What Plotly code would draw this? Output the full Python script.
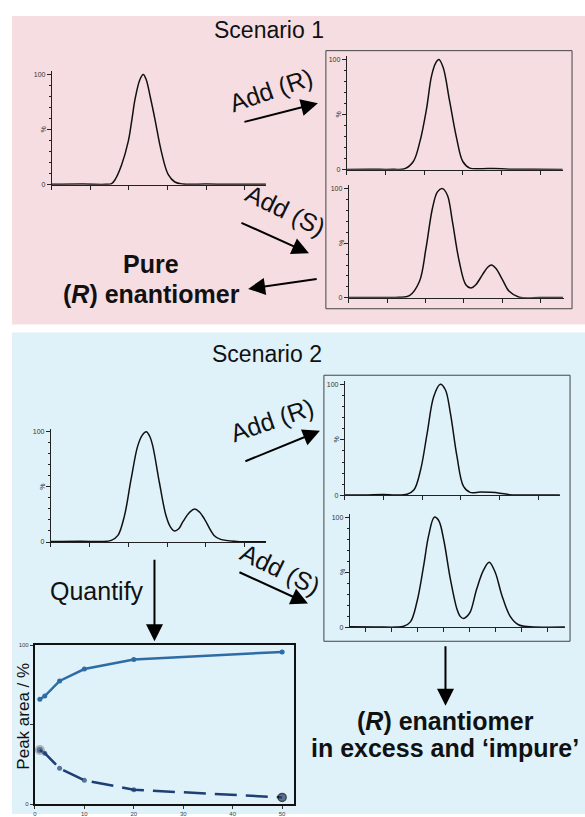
import plotly.graph_objects as go

W, H = 585, 817
FONT = "Liberation Sans, Arial, sans-serif"
INK = "#111111"

# ---------------- data ----------------
# Scenario 1, starting sample (x in tick units)
s1_start_x = [0, 0.8, 1.4, 1.55, 1.64, 1.81, 1.98, 2.08, 2.16, 2.28, 2.37, 2.45, 2.55, 2.67, 2.84, 3.02, 3.19, 3.4, 4.0, 4.6, 5.2, 5.55]
s1_start_y = [0.3, 0.5, 0.3, 1, 4.5, 18, 39, 60, 78, 95, 100, 95, 80, 60, 30, 9, 2.4, 0.6, 0.5, 0.4, 0.3, 0.3]
# Scenario 1, + (R)
s1_addR_x = [0, 0.6, 1.2, 1.5, 1.72, 1.89, 2.06, 2.19, 2.3, 2.38, 2.49, 2.66, 2.84, 3.0, 3.18, 3.5, 3.8, 4.2, 4.8, 5.58]
s1_addR_y = [0.3, 0.4, 0.4, 1, 7.5, 25.5, 55, 85, 97, 100, 93, 62, 28.5, 7.5, 1.5, 1, 1.2, 0.5, 0.4, 0.3]
# Scenario 1, + (S)
s1_addS_x = [0, 0.8, 1.3, 1.58, 1.84, 2.01, 2.18, 2.31, 2.44, 2.57, 2.70, 2.88, 3.05, 3.18, 3.31, 3.48, 3.62, 3.72, 3.83, 4.0, 4.18, 4.44, 5.0, 5.58]
s1_addS_y = [0.3, 0.4, 0.5, 2, 15, 45, 82, 97, 100, 94, 70, 33, 12, 9, 12, 21, 28, 30, 27, 17, 6, 0.6, 0.3, 0.3]
# Scenario 2, starting sample
s2_start_x = [0, 0.8, 1.3, 1.56, 1.73, 1.90, 2.07, 2.24, 2.36, 2.46, 2.55, 2.63, 2.80, 2.97, 3.08, 3.19, 3.30, 3.40, 3.58, 3.71, 3.84, 3.96, 4.21, 4.38, 4.8, 5.55]
s2_start_y = [0.5, 0.8, 0.4, 1.5, 6, 24, 57, 87, 97, 100, 96, 87, 54, 24, 14, 10, 12, 18, 27, 30, 27, 21, 6, 2.4, 0.5, 0.3]
# Scenario 2, + (R)
s2_addR_x = [0, 0.5, 1.0, 1.3, 1.61, 1.79, 1.96, 2.13, 2.30, 2.47, 2.60, 2.73, 2.90, 3.07, 3.24, 3.50, 3.76, 4.01, 4.27, 4.8, 5.56]
s2_addR_y = [0.3, 0.3, 0.8, 0.3, 1, 5, 23, 56, 89, 100, 95, 74, 35, 8, 2.7, 3, 2.7, 2, 0.6, 0.3, 0.3]
# Scenario 2, + (S)  (finer tick spacing)
s2_addS_x = [0, 1.0, 1.8, 2.08, 2.34, 2.59, 2.85, 3.04, 3.26, 3.43, 3.62, 3.88, 4.13, 4.26, 4.39, 4.52, 4.65, 4.90, 5.16, 5.38, 5.61, 5.87, 6.19, 6.51, 6.96, 8.3]
s2_addS_y = [0.5, 0.4, 0.3, 1, 5, 23, 56, 83, 100, 97, 80, 44, 17, 10, 8, 10, 14, 35, 52, 59, 50, 29, 10, 2.4, 0.6, 0.3]

# Quantification plot
conc = [1, 2, 5, 10, 20, 50]
area_R = [66, 68, 77.5, 85, 91, 95.8]
area_S = [34, 32, 22.5, 15, 9, 4.2]
conc_ticks = [0, 10, 20, 30, 40, 50]

ticks6 = [0, 1, 2, 3, 4, 5]
ticks_fine = [0.62, 1.62, 2.62, 3.62, 4.62, 5.62, 6.62, 7.62]

# ---------------- helpers ----------------
def X(p):
    return p / W

def Y(p):
    return 1 - p / H

fig = go.Figure()
shapes = []
annotations = []
layout_axes = {}

def add_chrom(n, xs, ys, left, right, unit, baseline, top, tickvals):
    sx = '' if n == 1 else str(n)
    xmax = (right - left) / unit
    top_ext = baseline - (baseline - top) * 1.03
    fig.add_trace(go.Scatter(
        x=xs, y=ys, mode='lines',
        line=dict(color=INK, width=1.5, shape='spline', smoothing=1.0),
        xaxis='x' + sx, yaxis='y' + sx, showlegend=False, hoverinfo='skip'))
    layout_axes['xaxis' + sx] = dict(
        domain=[X(left), X(right)], range=[0, xmax], anchor='y' + sx,
        showline=True, linecolor='#222', linewidth=1,
        ticks='outside', ticklen=4, tickcolor='#222', tickwidth=1,
        tickmode='array', tickvals=tickvals, showticklabels=False,
        showgrid=False, zeroline=False, fixedrange=True)
    layout_axes['yaxis' + sx] = dict(
        domain=[Y(baseline), Y(top_ext)], range=[0, 103], anchor='x' + sx,
        showline=True, linecolor='#222', linewidth=1,
        ticks='outside', ticklen=4, tickcolor='#222', tickwidth=1,
        tickmode='array', tickvals=[0, 50, 100], ticktext=['0', '', '100'],
        tickfont=dict(size=7, color='#333', family=FONT),
        minor=dict(tickmode='array', tickvals=[10, 20, 30, 40, 60, 70, 80, 90],
                   ticks='outside', ticklen=2, tickcolor='#222'),
        showgrid=False, zeroline=False, fixedrange=True)
    annotations.append(dict(
        text='%', x=X(left - 8), y=Y((baseline + top) / 2), xref='paper', yref='paper',
        textangle=-90, showarrow=False, font=dict(size=7, color='#333', family=FONT),
        xanchor='center', yanchor='middle'))

def arrow(x0, y0, x1, y1):
    annotations.append(dict(
        x=X(x1), y=Y(y1), xref='paper', yref='paper',
        ax=x0 - x1, ay=y0 - y1, axref='pixel', ayref='pixel',
        showarrow=True, arrowhead=2, arrowsize=1.7, arrowwidth=2,
        arrowcolor='black', text=''))

def label(txt, x, y, size, angle=0):
    annotations.append(dict(
        text=txt, x=X(x), y=Y(y), xref='paper', yref='paper', showarrow=False,
        textangle=angle, xanchor='center', yanchor='middle',
        font=dict(size=size, color=INK, family=FONT)))

# ---------------- background panels ----------------
shapes.append(dict(type='rect', xref='paper', yref='paper', x0=X(10), x1=X(585),
                   y0=Y(324), y1=Y(13), fillcolor='#F6DDE1', line=dict(width=0), layer='below'))
shapes.append(dict(type='rect', xref='paper', yref='paper', x0=X(10), x1=X(585),
                   y0=Y(817), y1=Y(332), fillcolor='#DFF1F9', line=dict(width=0), layer='below'))
# frames around the right-hand chromatogram pairs
shapes.append(dict(type='rect', xref='paper', yref='paper', x0=X(325), x1=X(572),
                   y0=Y(308), y1=Y(48), line=dict(color='#444', width=1), layer='above'))
shapes.append(dict(type='rect', xref='paper', yref='paper', x0=X(323), x1=X(570),
                   y0=Y(643), y1=Y(375), line=dict(color='#444', width=1), layer='above'))

# ---------------- chromatograms ----------------
add_chrom(1, s1_start_x, s1_start_y, 50, 265, 38.7, 183, 72, ticks6)
add_chrom(2, s1_addR_x, s1_addR_y, 346, 563, 38.8, 168, 57, ticks6)
add_chrom(3, s1_addS_x, s1_addS_y, 348, 564, 38.5, 297, 187, ticks6)
add_chrom(4, s2_start_x, s2_start_y, 49, 265, 38.9, 543, 432, ticks6)
add_chrom(5, s2_addR_x, s2_addR_y, 344, 560, 38.8, 496, 384, ticks6)
add_chrom(6, s2_addS_x, s2_addS_y, 349, 565, 26.0, 629, 518, ticks_fine)

# ---------------- quantification plot ----------------
fig.add_trace(go.Scatter(
    x=conc, y=area_R, mode='lines+markers', xaxis='x7', yaxis='y7',
    line=dict(color='#2E6CA6', width=2.5),
    marker=dict(color='#2E6CA6', size=5),
    showlegend=False, hoverinfo='skip', cliponaxis=False))
fig.add_trace(go.Scatter(
    x=conc, y=area_S, mode='lines+markers', xaxis='x7', yaxis='y7',
    line=dict(color='#1D3F72', width=2.5, dash='22px,9px'),
    marker=dict(color='#1D3F72', size=[8, 5, 5, 5, 5, 8],
                line=dict(color=['#9a9a9a', '#1D3F72', '#1D3F72', '#1D3F72', '#1D3F72', '#000000'],
                          width=[2, 0, 0, 0, 0, 1.5])),
    showlegend=False, hoverinfo='skip', cliponaxis=False))
layout_axes['xaxis7'] = dict(
    domain=[X(33), X(293)], range=[0, 52.4], anchor='y7',
    showline=True, mirror=True, linecolor='#111', linewidth=2,
    ticks='outside', ticklen=3, tickcolor='#333', tickmode='array', tickvals=conc_ticks,
    tickfont=dict(size=6, color='#444', family=FONT),
    showgrid=False, zeroline=False, fixedrange=True)
layout_axes['yaxis7'] = dict(
    domain=[Y(807), Y(647)], range=[0, 100], anchor='x7',
    showline=True, mirror=True, linecolor='#111', linewidth=2,
    ticks='outside', ticklen=3, tickcolor='#333', tickmode='array', tickvals=[0, 50, 100],
    ticktext=['0', '', '100'], tickfont=dict(size=6, color='#444', family=FONT),
    showgrid=False, zeroline=False, fixedrange=True)
label('Peak area / %', 22, 718, 17, angle=-90)

# ---------------- text ----------------
label('Scenario 1', 268, 27, 23)
label('Scenario 2', 266, 354, 23)
label('Add (R)', 270, 88, 25, angle=-19)
label('Add (S)', 284, 209, 25, angle=26)
label('<b>Pure</b>', 150, 263, 25)
label('<b>(<i>R</i>) enantiomer</b>', 150, 293, 25)
label('Add (R)', 271, 420, 25, angle=-19)
label('Add (S)', 279, 570, 25, angle=26)
label('Quantify', 95, 592, 25)
label('<b>(<i>R</i>) enantiomer</b>', 445, 723, 25)
label('<b>in excess and \u2018impure\u2019</b>', 445, 751, 25)

# ---------------- arrows ----------------
arrow(242, 120, 317, 101)
arrow(239, 221, 308, 252)
arrow(317, 278, 247, 288)
arrow(243, 462, 319, 431)
arrow(237, 573, 307, 605)
arrow(153, 560, 153, 643)
arrow(445, 647, 445, 708)

fig.update_layout(
    width=W, height=H, margin=dict(l=0, r=0, t=0, b=0),
    paper_bgcolor='white', plot_bgcolor='rgba(0,0,0,0)',
    font=dict(family=FONT, color=INK),
    shapes=shapes, annotations=annotations, showlegend=False,
    **layout_axes)

fig.write_html("out.html")
